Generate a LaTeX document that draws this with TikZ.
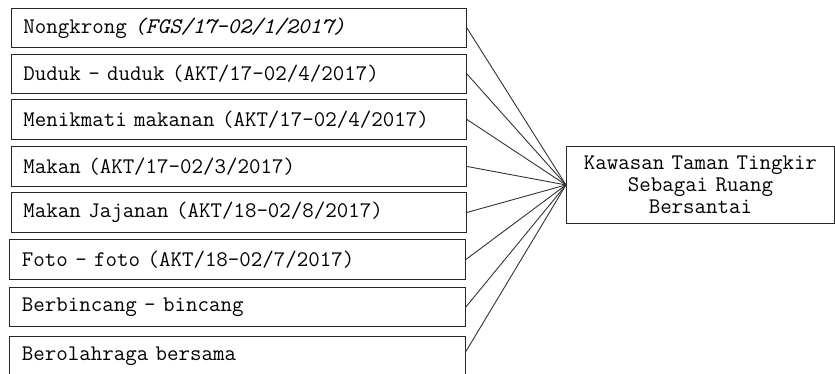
\documentclass[tikz,border=0pt]{standalone}
\usepackage{fontspec}
\begin{document}
\begin{tikzpicture}[x=1pt,y=-1pt,
  box/.style={draw=black!85, line width=0.9pt, minimum height=40pt, anchor=north west,
    inner sep=0pt, text width=431pt, minimum width=455pt, align=left,
    font=\ttfamily\fontsize{22.3}{24}\selectfont},
  target/.style={draw=black!85, line width=0.9pt, anchor=north west, inner sep=0pt,
    minimum width=268pt, minimum height=77pt, text width=260pt, align=center,
    font=\ttfamily\fontsize{22.3}{21.7}\selectfont},
  link/.style={draw=black!80, line width=0.9pt}]
\useasboundingbox (0,0) rectangle (835,374);
\clip (0,0) rectangle (835,374);
\node[box, minimum height=39pt] (b1) at (11,8) {Nongkrong \textit{(FGS/17-02/1/2017)}};
\node[box, minimum height=39pt] (b2) at (11,54) {Duduk - duduk (AKT/17-02/4/2017)};
\node[box] (b3) at (11,99) {Menikmati makanan (AKT/17-02/4/2017)};
\node[box] (b4) at (11,146) {Makan (AKT/17-02/3/2017)};
\node[box] (b5) at (11,192) {Makan Jajanan (AKT/18-02/8/2017)};
\node[box, minimum width=456pt] (b6) at (9,239) {Foto - foto (AKT/18-02/7/2017)};
\node[box, minimum width=456pt, minimum height=39pt] (b7) at (9,287) {Berbincang - bincang};
\node[box, minimum width=456pt, minimum height=40pt] (b8) at (9,336) {Berolahraga bersama};
\node[target] (r) at (566,146) {Kawasan Taman Tingkir\\Sebagai Ruang\\Bersantai};
\foreach \b in {b1,b2,b3,b4,b5,b6,b7} {\path[link] (\b.east) -- (r.west);}
\path[link] ([yshift=5pt]b8.east) -- (r.west);
\end{tikzpicture}
\end{document}
